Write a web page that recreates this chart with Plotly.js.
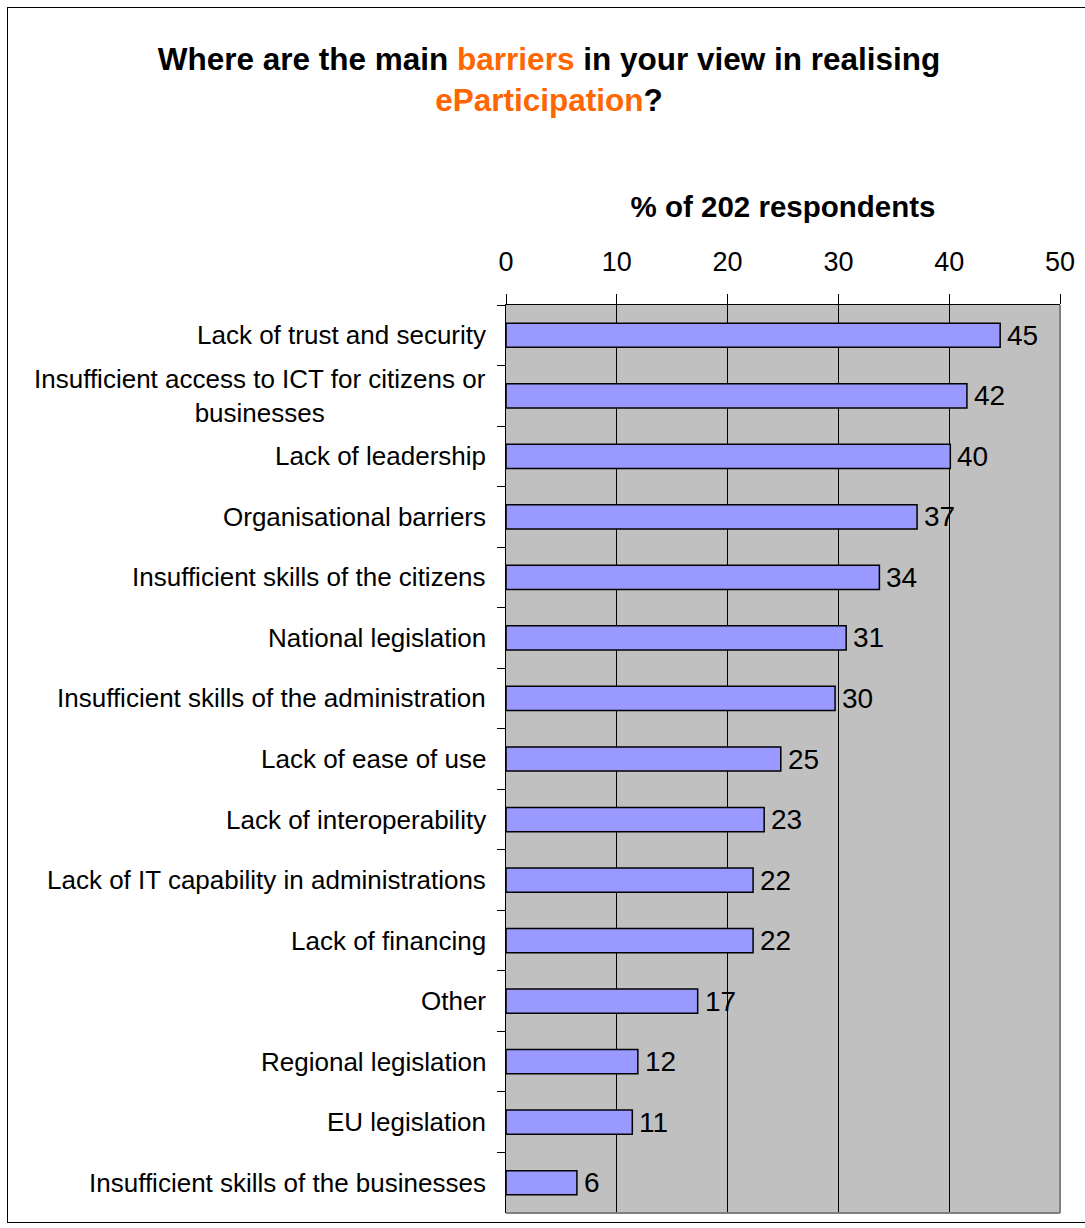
<!DOCTYPE html>
<html>
<head>
<meta charset="utf-8">
<script src="https://cdn.plot.ly/plotly-3.0.1.min.js"></script>
<style>
  html, body { margin: 0; padding: 0; background: #fff; }
  #wrap { position: relative; width: 1085px; height: 1228px; overflow: hidden; }
  #frame { position: absolute; left: 7px; top: 7px; width: 1100px; height: 1216px; border: 1px solid #000; box-sizing: border-box; }
  #chart { position: absolute; left: 0; top: 0; width: 1085px; height: 1228px; }
</style>
</head>
<body>
<div id="wrap">
  <div id="frame"></div>
  <div id="chart"></div>
</div>
<script>
// Data
const categories = [
  "Lack of trust and security",
  "Insufficient access to ICT for citizens or<br>businesses",
  "Lack of leadership",
  "Organisational barriers",
  "Insufficient skills of the citizens",
  "National legislation",
  "Insufficient skills of the administration",
  "Lack of ease of use",
  "Lack of interoperability",
  "Lack of IT capability in administrations",
  "Lack of financing",
  "Other",
  "Regional legislation",
  "EU legislation",
  "Insufficient skills of the businesses"
];
const percentValues = [44.6, 41.6, 40.1, 37.1, 33.7, 30.7, 29.7, 24.8, 23.3, 22.3, 22.3, 17.3, 11.9, 11.4, 6.4];
const valueLabels = ["45", "42", "40", "37", "34", "31", "30", "25", "23", "22", "22", "17", "12", "11", "6"];
const xTickValues = [0, 10, 20, 30, 40, 50];
const xAxisTitle = "% of 202 respondents";

const FONT = "Arial, 'Liberation Sans', sans-serif";
const ids = categories.map((c, i) => "c" + i);

const trace = {
  type: "bar",
  orientation: "h",
  y: ids,
  x: percentValues,
  marker: { color: "#9999FF", line: { color: "#000000", width: 1.5 } },
  hoverinfo: "skip"
};

const annotations = [];
categories.forEach((c, i) => {
  annotations.push({
    xref: "paper", yref: "y", x: 0, y: ids[i],
    xanchor: "right", yanchor: "middle", align: "center",
    xshift: -18, text: c, showarrow: false,
    font: { family: FONT, size: 26, color: "#000" }
  });
  annotations.push({
    xref: "x", yref: "y", x: percentValues[i], y: ids[i],
    xanchor: "left", yanchor: "middle", xshift: 5,
    text: valueLabels[i], showarrow: false,
    font: { family: FONT, size: 28, color: "#000" }
  });
});

const layout = {
  width: 1085, height: 1228,
  paper_bgcolor: "rgba(0,0,0,0)",
  plot_bgcolor: "#C0C0C0",
  margin: { l: 506, r: 25, t: 305, b: 15 },
  showlegend: false,
  bargap: 0.6,
  title: {
    text: "<b>Where are the main <span style='color:#FF6600'>barriers</span> in your view in realising<br><span style='color:#FF6600'>eParticipation</span>?</b>",
    font: { family: FONT, size: 31.5, color: "#000" },
    x: 0.506, xanchor: "center", xref: "container",
    y: 1 - 70 / 1228, yanchor: "top", yref: "container"
  },
  xaxis: {
    side: "top",
    range: [0, 50],
    tickvals: xTickValues,
    ticktext: xTickValues.map(String),
    ticks: "outside", ticklen: 10, tickcolor: "#000", tickwidth: 1,
    ticklabelstandoff: 12,
    tickfont: { family: FONT, size: 27, color: "#000" },
    showgrid: true, gridcolor: "#000", gridwidth: 1,
    zeroline: false,
    showline: true, linecolor: "#000", linewidth: 1,
    fixedrange: true,
    title: {
      text: "<b>" + xAxisTitle + "</b>",
      font: { family: FONT, size: 29.5, color: "#000" },
      standoff: 20
    }
  },
  yaxis: {
    type: "category",
    autorange: "reversed",
    showticklabels: false,
    ticks: "outside", tickson: "boundaries", ticklen: 8, tickcolor: "#000",
    showgrid: false, zeroline: false,
    showline: true, linecolor: "#000", linewidth: 1.5,
    fixedrange: true
  },
  shapes: [
    { type: "line", xref: "paper", yref: "paper", x0: 1, x1: 1, y0: 0, y1: 1, line: { color: "#808080", width: 2 }, layer: "above" },
    { type: "line", xref: "paper", yref: "paper", x0: 0, x1: 1, y0: 0, y1: 0, line: { color: "#808080", width: 2 }, layer: "above" }
  ],
  annotations: annotations
};

Plotly.newPlot("chart", [trace], layout, { displayModeBar: false, staticPlot: true });
</script>
</body>
</html>
